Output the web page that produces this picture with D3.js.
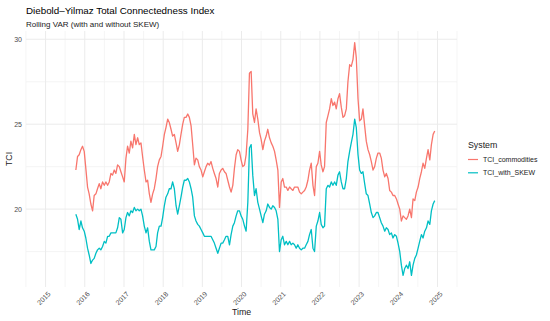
<!DOCTYPE html>
<html>
<head>
<meta charset="utf-8">
<script src="https://cdn.jsdelivr.net/npm/d3@7"></script>
<style>
  body { margin: 0; background: #fff; }
  svg text { font-family: "Liberation Sans", Arial, sans-serif; }
</style>
</head>
<body>
<div id="chart"></div>
<script>
// rolling TCI, roughly every 15-16 days from Oct 2015 to Dec 2024
var firstObs = "2015-10-10";
var obsStepDays = 15.56;

var tciCommodities = [
  22.3, 23.1, 23.2, 23.5, 23.7, 23.4, 22.4, 21.3, 20.9, 20.3,
  19.9, 20.8, 20.9, 21.2, 21.5, 21.2, 21.6, 21.4, 21.6, 21.4,
  21.6, 22.1, 22.0, 22.3, 22.1, 22.6, 22.5, 22.2, 21.9, 21.6,
  23.0, 23.7, 23.3, 24.0, 23.6, 24.4, 23.8, 24.2, 23.8, 23.9,
  23.1, 22.3, 21.6, 21.7, 20.9, 20.4, 20.9, 21.2, 21.8, 22.5,
  22.9,
  23.1, 23.7, 24.4, 24.8, 25.3, 25.1, 24.7, 24.3, 24.4, 23.9,
  23.4, 23.8, 24.4, 25.0, 25.4, 25.4, 25.6, 25.4, 24.9, 23.8,
  22.6, 23.0, 22.9, 22.5, 22.3, 21.9, 22.2, 22.5, 22.7, 22.6,
  22.8, 22.4, 22.1, 21.8, 21.3, 22.1, 22.3, 22.4, 22.2, 22.1,
  21.7, 21.3, 21.0, 21.4, 22.4, 23.2, 23.5, 23.4, 22.9, 22.5,
  22.6, 23.2, 24.7, 28.0,
  28.1, 25.6, 25.1, 25.9, 25.3, 24.5, 24.1, 23.5, 24.0, 24.3,
  24.7, 24.2, 23.9, 23.7, 23.4, 22.9, 22.3, 20.1, 21.6, 21.8,
  21.3, 21.3, 21.1, 21.3, 21.2, 21.1, 21.3, 21.3, 21.3, 21.0,
  20.9, 21.0, 21.1, 21.3, 21.7, 22.3, 22.7, 21.4, 20.8, 22.5,
  22.7, 23.4, 22.6, 22.2, 22.5, 25.1, 25.5, 25.9, 26.5, 26.1,
  26.3, 25.9, 26.5, 26.8,
  26.0, 25.4, 25.5, 25.9, 27.5, 28.5, 28.4, 28.8, 29.8, 28.9,
  26.5, 25.2, 25.3, 25.9, 24.9, 24.0, 23.5, 23.2, 22.8, 22.3,
  22.5, 23.0, 23.3, 23.3, 23.0, 22.3, 21.9, 22.1, 21.8, 21.1,
  21.0, 20.8, 20.8, 20.6, 20.3, 20.0, 19.3, 19.6, 19.5, 19.4,
  19.6, 20.0, 19.5, 20.6, 20.5, 21.0, 21.3, 21.8, 22.2, 22.7,
  22.4, 23.0, 23.5, 22.9, 23.8, 24.4, 24.6
];

var tciWithSkew = [
  19.7, 19.4, 18.8, 19.3, 18.9, 18.7, 18.3, 17.7, 17.3, 16.8,
  17.0, 17.1, 17.4, 17.6, 17.7, 17.6, 17.8, 18.1, 18.0, 18.4,
  18.4, 18.6, 18.6, 18.6, 18.6, 18.9, 19.5, 19.4, 18.6, 18.8,
  19.5, 19.8, 19.6, 19.9, 19.8, 20.1, 19.9, 20.0, 19.9, 20.0,
  19.6, 19.0, 18.6, 18.9, 18.1, 17.6, 17.6, 17.6, 17.8, 18.6,
  19.0,
  19.0, 19.5, 20.2, 20.7, 20.9, 21.2, 21.2, 21.6, 21.2, 20.2,
  19.7, 20.2, 20.7, 21.3, 21.7, 21.7, 21.8, 21.6, 21.2, 20.7,
  19.6, 19.3, 19.1, 19.0, 18.8, 18.6, 18.4, 18.4, 18.4, 18.4,
  18.4, 18.2, 18.0, 17.7, 17.4, 17.7, 18.0, 18.0, 18.2, 18.4,
  18.4, 17.9, 18.5, 19.0, 19.2, 19.6, 19.9, 19.9, 19.6, 19.4,
  19.0, 18.7, 20.4, 23.6,
  23.8, 22.0, 20.8, 21.2, 20.4, 20.0, 19.6, 19.2, 19.7, 19.9,
  20.3, 20.1, 20.0, 20.2, 20.1, 19.9, 19.4, 17.5, 18.2, 18.4,
  17.9, 18.1, 17.9, 18.1, 17.9, 18.0, 17.9, 17.7, 17.9, 17.7,
  17.6, 17.7, 17.7, 17.9, 18.1, 18.5, 18.8, 17.7, 17.5, 19.0,
  19.3, 19.8, 19.1, 18.9, 19.0, 21.2, 21.4, 21.3, 21.6, 21.4,
  21.6, 21.4, 22.0, 22.2,
  21.6, 21.2, 21.2, 21.8, 22.8, 23.4, 23.9, 24.4, 25.3, 24.8,
  23.2, 22.3, 22.1, 22.2, 21.5, 20.9, 20.8, 20.3, 19.8, 19.5,
  19.6, 19.8, 19.8, 19.5, 19.2, 19.0, 18.7, 18.9, 18.8, 18.5,
  18.6, 18.3, 18.5, 18.4, 18.0, 17.5, 16.7, 16.1, 16.5, 16.7,
  16.5, 16.9, 16.1, 16.7, 17.1, 17.3, 17.7, 18.1, 18.5, 18.3,
  18.7, 18.9, 19.3, 19.1, 19.9, 20.3, 20.5
];

var seriesNames = ["TCI_commodities", "TCI_with_SKEW"];
var seriesColors = ["#F8766D", "#00BFC4"];
var sampleSpan = ["2015-01-01", "2024-12-31"];
var yearTicks = [2015, 2016, 2017, 2018, 2019, 2020, 2021, 2022, 2023, 2024, 2025];
var yTicks = [20, 25, 30];
var yMinorTicks = [17.5, 22.5, 27.5];

var W = 550, H = 321;
var plotL = 26, plotR = 457, plotT = 31, plotB = 287;

var svg = d3.select("#chart").append("svg")
  .attr("width", W).attr("height", H);

var parse = d3.timeParse("%Y-%m-%d");
var start = parse(firstObs);
var dates = tciCommodities.map(function(d, i) {
  return d3.timeDay.offset(start, Math.round(i * obsStepDays));
});

// ggplot style 5% expansion
var d0 = parse(sampleSpan[0]), d1 = parse(sampleSpan[1]);
var pad = (d1 - d0) * 0.05;
var x = d3.scaleTime()
  .domain([new Date(+d0 - pad), new Date(+d1 + pad)])
  .range([plotL, plotR]);

var allVals = tciCommodities.concat(tciWithSkew);
var ext = d3.extent(allVals);
var ypad = (ext[1] - ext[0]) * 0.05;
var y = d3.scaleLinear()
  .domain([ext[0] - ypad, ext[1] + ypad])
  .range([plotB, plotT]);

// grid
var grid = svg.append("g");
var minorYears = d3.range(2014, 2026).map(function(yr) { return new Date(yr, 6, 2); });
grid.selectAll(".vminor").data(minorYears).enter().append("line")
  .attr("x1", function(d) { return x(d); }).attr("x2", function(d) { return x(d); })
  .attr("y1", plotT).attr("y2", plotB)
  .attr("stroke", "#f2f2f2").attr("stroke-width", 0.8);
grid.selectAll(".hminor").data(yMinorTicks).enter().append("line")
  .attr("x1", plotL).attr("x2", plotR)
  .attr("y1", function(d) { return y(d); }).attr("y2", function(d) { return y(d); })
  .attr("stroke", "#f2f2f2").attr("stroke-width", 0.8);
grid.selectAll(".vmajor").data(yearTicks).enter().append("line")
  .attr("x1", function(d) { return x(new Date(d, 0, 1)); })
  .attr("x2", function(d) { return x(new Date(d, 0, 1)); })
  .attr("y1", plotT).attr("y2", plotB)
  .attr("stroke", "#ebebeb").attr("stroke-width", 1);
grid.selectAll(".hmajor").data(yTicks).enter().append("line")
  .attr("x1", plotL).attr("x2", plotR)
  .attr("y1", function(d) { return y(d); }).attr("y2", function(d) { return y(d); })
  .attr("stroke", "#ebebeb").attr("stroke-width", 1);

// lines
var line = d3.line()
  .x(function(d) { return x(d[0]); })
  .y(function(d) { return y(d[1]); });

[tciCommodities, tciWithSkew].forEach(function(vals, k) {
  svg.append("path")
    .datum(vals.map(function(v, i) { return [dates[i], v]; }))
    .attr("fill", "none")
    .attr("stroke", seriesColors[k])
    .attr("stroke-width", 1.3)
    .attr("stroke-linejoin", "round")
    .attr("d", line);
});

// axes text
svg.selectAll(".ylab").data(yTicks).enter().append("text")
  .attr("x", plotL - 4).attr("y", function(d) { return y(d); })
  .attr("dy", "0.35em")
  .attr("text-anchor", "end")
  .attr("font-size", 7)
  .attr("fill", "#4d4d4d")
  .text(function(d) { return d; });

svg.selectAll(".xlab").data(yearTicks).enter().append("text")
  .attr("transform", function(d) {
    return "translate(" + (x(new Date(d, 0, 1)) + 2) + "," + (plotB + 4) + ") rotate(-45)";
  })
  .attr("text-anchor", "end")
  .attr("dy", "0.7em")
  .attr("font-size", 7)
  .attr("fill", "#4d4d4d")
  .text(function(d) { return d; });

svg.append("text")
  .attr("x", (plotL + plotR) / 2).attr("y", 315)
  .attr("text-anchor", "middle")
  .attr("font-size", 8.8)
  .attr("fill", "#1a1a1a")
  .text("Time");

svg.append("text")
  .attr("transform", "translate(12," + ((plotT + plotB) / 2) + ") rotate(-90)")
  .attr("text-anchor", "middle")
  .attr("font-size", 8.8)
  .attr("fill", "#1a1a1a")
  .text("TCI");

// titles
svg.append("text")
  .attr("x", plotL).attr("y", 14)
  .attr("font-size", 9.8)
  .attr("fill", "#000")
  .text("Diebold\u2013Yilmaz Total Connectedness Index");

svg.append("text")
  .attr("x", plotL).attr("y", 27)
  .attr("font-size", 8)
  .attr("fill", "#1a1a1a")
  .text("Rolling VAR (with and without SKEW)");

// legend
var legend = svg.append("g").attr("transform", "translate(468,0)");
legend.append("text")
  .attr("x", 0).attr("y", 148)
  .attr("font-size", 8.8)
  .attr("fill", "#1a1a1a")
  .text("System");
seriesNames.forEach(function(name, i) {
  var ly = 159.5 + i * 13.3;
  legend.append("line")
    .attr("x1", 0).attr("x2", 10)
    .attr("y1", ly).attr("y2", ly)
    .attr("stroke", seriesColors[i]).attr("stroke-width", 1.2);
  legend.append("text")
    .attr("x", 15).attr("y", ly).attr("dy", "0.35em")
    .attr("font-size", 7)
    .attr("fill", "#1a1a1a")
    .text(name);
});
</script>
</body>
</html>
